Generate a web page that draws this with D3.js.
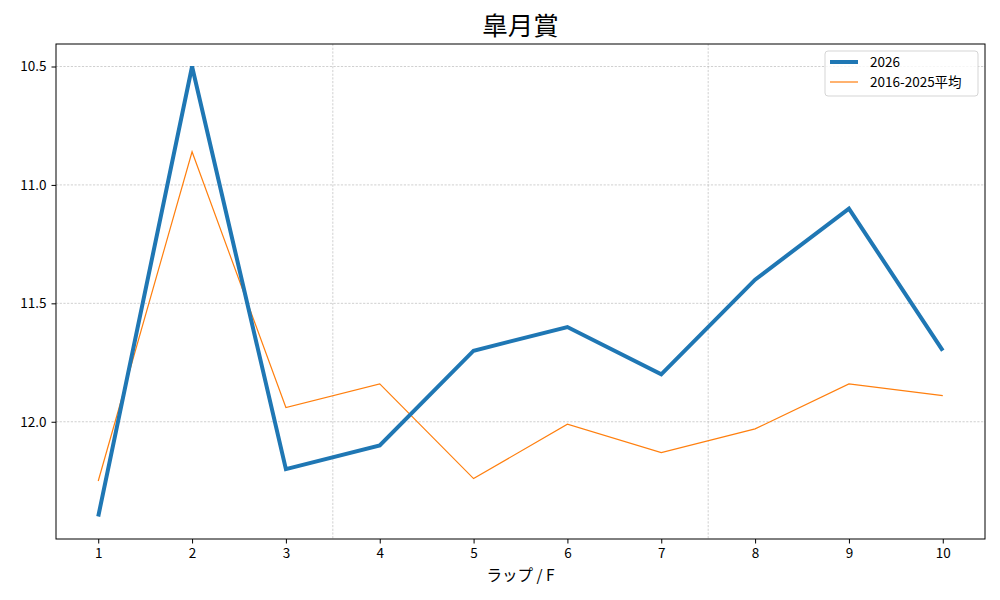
<!DOCTYPE html>
<html>
<head>
<meta charset="utf-8">
<script src="https://cdn.jsdelivr.net/npm/d3@7"></script>
<style>
  body { margin: 0; background: #fff; }
  svg text { font-family: "Noto Sans CJK JP", "DejaVu Sans", sans-serif; }
</style>
</head>
<body>
<div id="chart"></div>
<script>
// lap numbers (furlongs)
const laps = [1, 2, 3, 4, 5, 6, 7, 8, 9, 10];
// 2026 lap times
const times2026 = [12.4, 10.5, 12.2, 12.1, 11.7, 11.6, 11.8, 11.4, 11.1, 11.7];
// 2016-2025 average
const timesAvg = [12.25, 10.86, 11.94, 11.84, 12.24, 12.01, 12.13, 12.03, 11.84, 11.89];
const yTicks = [10.5, 11.0, 11.5, 12.0];
const seriesNames = ["2026", "2016-2025平均"];

const W = 1000, H = 600;
const margin = {top: 44, right: 15, bottom: 61, left: 56};
const width = W - margin.left - margin.right;
const height = H - margin.top - margin.bottom;

const svg = d3.select("#chart").append("svg")
    .attr("width", W)
    .attr("height", H);

const g = svg.append("g")
    .attr("transform", "translate(" + margin.left + "," + margin.top + ")");

let x = d3.scaleLinear()
  .domain([0.55, 10.45])
  .range([0, width]);
// inverted: faster laps at the top
let y = d3.scaleLinear()
  .domain([10.405, 12.495])
  .range([0, height]);

// grid
g.append("g").selectAll("line.hgrid")
  .data(yTicks)
  .enter().append("line")
    .attr("x1", 0).attr("x2", width)
    .attr("y1", d => y(d)).attr("y2", d => y(d))
    .attr("stroke", "#b0b0b0")
    .attr("stroke-width", 0.6)
    .attr("stroke-dasharray", "2.2,1.5");

g.append("g").selectAll("line.vgrid")
  .data([3.5, 7.5])
  .enter().append("line")
    .attr("x1", d => x(d)).attr("x2", d => x(d))
    .attr("y1", 0).attr("y2", height)
    .attr("stroke", "#b0b0b0")
    .attr("stroke-width", 0.6)
    .attr("stroke-dasharray", "2.2,1.5");

const line = d3.line()
  .x((d, i) => x(laps[i]))
  .y(d => y(d));

g.append("path")
  .datum(timesAvg)
  .attr("fill", "none")
  .attr("stroke", "#ff7f0e")
  .attr("stroke-width", 1.2)
  .attr("d", line);

g.append("path")
  .datum(times2026)
  .attr("fill", "none")
  .attr("stroke", "#1f77b4")
  .attr("stroke-width", 4)
  .attr("stroke-linejoin", "miter")
  .attr("d", line);

// axes
const xAxis = g.append("g")
  .attr("transform", "translate(0," + height + ")")
  .call(d3.axisBottom(x).tickValues(laps).tickFormat(d3.format("d")).tickSizeOuter(0).tickSize(4.5).tickPadding(5));
const yAxis = g.append("g")
  .call(d3.axisLeft(y).tickValues(yTicks).tickFormat(d3.format(".1f")).tickSizeOuter(0).tickSize(4.5).tickPadding(5));

[xAxis, yAxis].forEach(a => {
  a.selectAll("text").attr("font-size", 13.5).attr("fill", "#000")
    .style("font-family", "'Noto Sans CJK JP', sans-serif");
  a.selectAll("line").attr("stroke", "#000").attr("stroke-width", 1);
  a.select(".domain").remove();
});

g.append("rect")
  .attr("width", width).attr("height", height)
  .attr("fill", "none")
  .attr("stroke", "#000")
  .attr("stroke-width", 1);

// labels
svg.append("text")
  .attr("x", margin.left + width / 2)
  .attr("y", 35)
  .attr("text-anchor", "middle")
  .attr("font-size", 25.5)
  .text("皐月賞");

svg.append("text")
  .attr("x", margin.left + width / 2)
  .attr("y", 581)
  .attr("text-anchor", "middle")
  .attr("font-size", 15.5)
  .text("ラップ / F");

// legend
const leg = svg.append("g").attr("transform", "translate(825,51)");
leg.append("rect")
  .attr("width", 153).attr("height", 45)
  .attr("rx", 3)
  .attr("fill", "#fff").attr("fill-opacity", 0.8)
  .attr("stroke", "#d5d5d5");
const items = [
  {name: seriesNames[0], color: "#1f77b4", w: 4},
  {name: seriesNames[1], color: "#ff7f0e", w: 1.2}
];
items.forEach((it, i) => {
  const yy = 11 + i * 20;
  leg.append("line")
    .attr("x1", 5).attr("x2", 33)
    .attr("y1", yy).attr("y2", yy)
    .attr("stroke", it.color).attr("stroke-width", it.w);
  leg.append("text")
    .attr("x", 45).attr("y", yy + 4.5)
    .attr("font-size", 13.5)
    .text(it.name);
});
</script>
</body>
</html>
